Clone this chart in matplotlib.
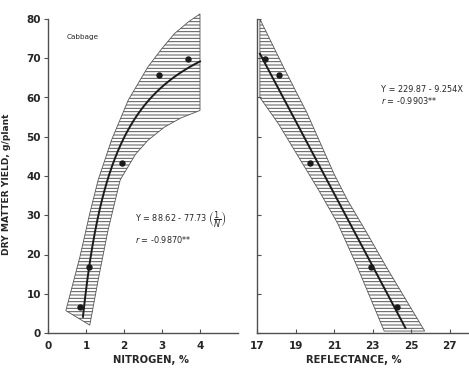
import matplotlib
matplotlib.use("Agg")
import matplotlib.pyplot as plt
import numpy as np

plt.rcParams['font.family'] = ['DejaVu Sans']
plt.rcParams['hatch.color'] = '#3c3c3c'
plt.rcParams['hatch.linewidth'] = 0.7

INK = '#262626'

# Sample yields (g/plant) with leaf nitrogen (%) and reflectance (%)
yield_g = [6.5, 16.8, 43.2, 65.8, 69.7]
nitrogen = [0.85, 1.08, 1.95, 2.93, 3.68]
reflect = [24.24, 22.89, 19.75, 18.14, 17.41]

# Fitted curves
fit_n_a, fit_n_b = 88.62, 77.73        # Y = a - b (1/N)
fit_n_range = (0.92, 4.0)
fit_r_a, fit_r_b = 229.87, 9.254       # Y = a - b X
fit_r_range = (17.15, 24.7)

# Confidence band outlines, nitrogen panel
band_n_upper_x = [0.47, 0.84, 1.10, 1.32, 1.67, 2.11, 2.63, 3.0, 3.33, 3.7, 4.0]
band_n_upper_y = [5.7, 19.4, 30.5, 39.0, 49.1, 59.3, 67.8, 72.5, 76.3, 79.3, 81.3]
band_n_lower_x = [1.10, 1.32, 1.58, 1.90, 2.30, 2.63, 3.07, 3.50, 4.0]
band_n_lower_y = [2.0, 13.5, 26.2, 39.0, 45.5, 49.1, 52.5, 54.8, 56.7]

# Confidence band outlines, reflectance panel
band_r_upper_x = [17.15, 18.4, 19.6, 21.0, 21.7, 22.7, 23.7, 25.7]
band_r_upper_y = [80.0, 67.5, 56.0, 40.5, 33.8, 25.5, 16.9, 0.5]
band_r_lower_x = [17.15, 18.1, 19.15, 20.2, 21.2, 22.2, 23.6]
band_r_lower_y = [60.0, 53.4, 44.9, 36.4, 27.8, 16.9, 0.5]

yticks = [0, 10, 20, 30, 40, 50, 60, 70, 80]
n_ticks = [0, 1, 2, 3, 4]
r_ticks = [17, 19, 21, 23, 25, 27]

fig = plt.figure(figsize=(4.69, 3.71), dpi=100)
ax1 = fig.add_axes([48 / 469, 38 / 371, 190 / 469, 314 / 371])
ax2 = fig.add_axes([257 / 469, 38 / 371, 212 / 469, 314 / 371])


def band_polygon(ux, uy, lx, ly):
    xs = list(ux) + list(lx[::-1])
    ys = list(uy) + list(ly[::-1])
    return xs, ys


def style_axes(ax):
    for side in ('top', 'right'):
        ax.spines[side].set_visible(False)
    for side in ('left', 'bottom'):
        ax.spines[side].set_color('#505050')
        ax.spines[side].set_linewidth(1.0)
    ax.set_ylim(0, 80)
    ax.set_yticks(yticks)
    ax.tick_params(axis='both', colors='#505050', labelcolor=INK,
                   length=3, width=0.8, labelsize=7.5)
    ax.tick_params(axis='x', direction='in', pad=6)


# Nitrogen panel
style_axes(ax1)
ax1.set_xlim(0, 5.0)
ax1.set_xticks(n_ticks)
ax1.set_xticklabels([str(t) for t in n_ticks], fontweight='bold')
ax1.set_yticklabels([str(t) for t in yticks], fontweight='bold')
ax1.tick_params(axis='y', direction='out', pad=2)

px, py = band_polygon(band_n_upper_x, band_n_upper_y,
                      band_n_lower_x, band_n_lower_y)
ax1.fill(px, py, facecolor='none', edgecolor='#555555', linewidth=0.6,
         hatch='-----', clip_on=False)
nn = np.linspace(*fit_n_range, 200)
ax1.plot(nn, fit_n_a - fit_n_b / nn, color='#1a1a1a', lw=1.4)
ax1.plot(nitrogen, yield_g, 'o', color='#1a1a1a', ms=3.6)

ax1.text(0.48, 75.5, 'Cabbage', fontsize=5.2, color=INK, va='center')
ax1.text(2.3, 28.8, r'Y = 88.62 - 77.73 $\left(\dfrac{1}{N}\right)$',
         fontsize=5.9, color=INK, va='center')
ax1.text(2.3, 23.9, r'$r$ = -0.9870**', fontsize=5.9, color=INK,
         va='center')
ax1.text(2.7, -6.8, 'NITROGEN, %', fontsize=7.2, fontweight='bold',
         color=INK, ha='center', va='center')
ax1.text(-1.08, 38, 'DRY MATTER YIELD, g/plant', fontsize=6.6,
         fontweight='bold', color=INK, ha='center', va='center',
         rotation=90)

# Reflectance panel
style_axes(ax2)
ax2.set_xlim(17, 28)
ax2.set_xticks(r_ticks)
ax2.set_xticklabels([str(t) for t in r_ticks], fontweight='bold')
ax2.set_yticklabels([])
ax2.tick_params(axis='y', direction='in')

px, py = band_polygon(band_r_upper_x, band_r_upper_y,
                      band_r_lower_x, band_r_lower_y)
ax2.fill(px, py, facecolor='none', edgecolor='#555555', linewidth=0.6,
         hatch='-----')
rr = np.linspace(*fit_r_range, 100)
ax2.plot(rr, fit_r_a - fit_r_b * rr, color='#1a1a1a', lw=1.4)
ax2.plot(reflect, yield_g, 'o', color='#1a1a1a', ms=3.6)

ax2.text(23.45, 62.1, 'Y = 229.87 - 9.254X', fontsize=5.9, color=INK,
         va='center')
ax2.text(23.45, 59.3, r'$r$ = -0.9903**', fontsize=5.9, color=INK,
         va='center')
ax2.text(22.0, -6.8, 'REFLECTANCE, %', fontsize=7.2, fontweight='bold',
         color=INK, ha='center', va='center')

fig.savefig('out.png', dpi=100)
